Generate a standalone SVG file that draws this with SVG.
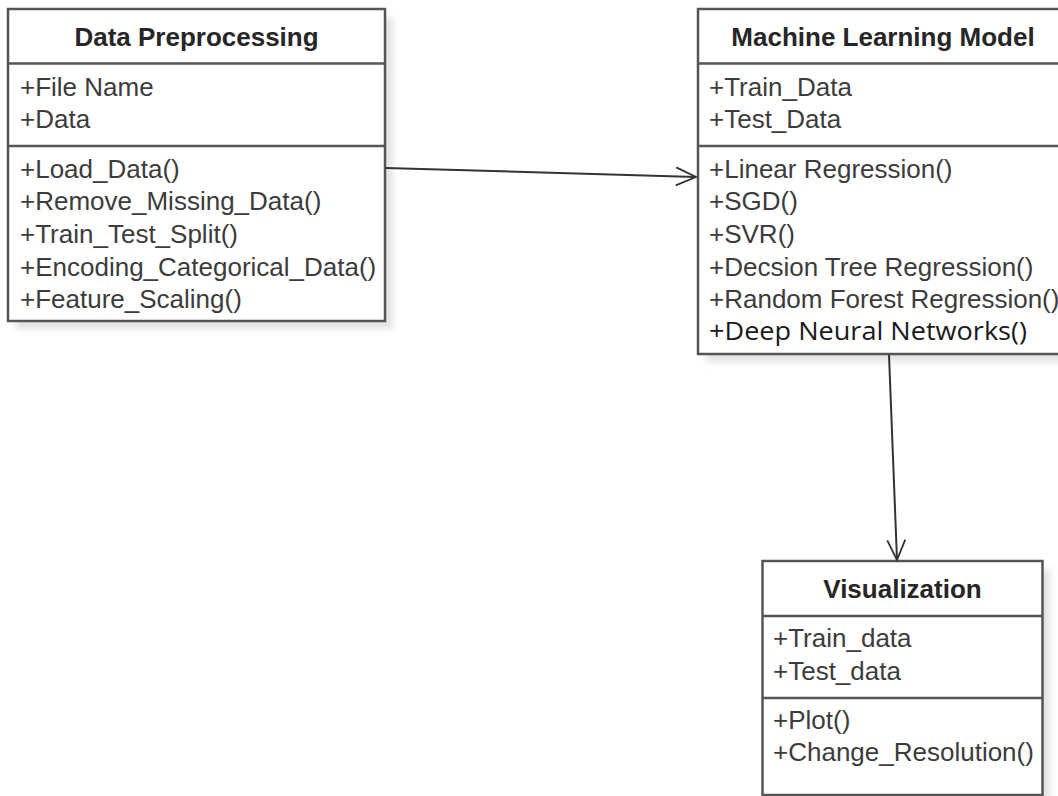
<svg xmlns="http://www.w3.org/2000/svg" width="1058" height="796" viewBox="0 0 1058 796">
  <defs>
    <filter id="shadow" x="-10%" y="-10%" width="130%" height="130%">
      <feGaussianBlur stdDeviation="3"/>
    </filter>
    <marker id="open" markerWidth="24" markerHeight="24" refX="21" refY="10" orient="auto" markerUnits="userSpaceOnUse">
      <path d="M1,1 L21,10 L1,19" fill="none" stroke="#333" stroke-width="1.8"/>
    </marker>
  </defs>
  <style>
    .box { fill: #ffffff; stroke: #555555; stroke-width: 2.5; }
    .shd { fill: #d8d8d8; filter: url(#shadow); opacity: 0.7; }
    .div { stroke: #555555; stroke-width: 2.5; }
    .title { font-family: "Liberation Sans", Arial, sans-serif; font-weight: bold; font-size: 26px; fill: #262626; text-anchor: middle; }
    .item { font-family: "Liberation Sans", Arial, sans-serif; font-size: 26px; fill: #3c3c3c; }
    .item2 { font-family: "Open Sans", "Noto Sans", sans-serif; font-size: 25px; fill: #1a1a1a; }
    .edge { stroke: #333333; stroke-width: 2; fill: none; }
  </style>
  <rect width="1058" height="796" fill="#ffffff"/>

  <g id="data-preprocessing">
    <rect class="shd" x="16" y="17" width="377" height="312"/>
    <rect class="box" x="8" y="9" width="377" height="312"/>
    <line class="div" x1="8" y1="63.5" x2="385" y2="63.5"/>
    <line class="div" x1="8" y1="146" x2="385" y2="146"/>
    <text class="title" x="196.5" y="46">Data Preprocessing</text>
    <text class="item" x="20" y="96">+File Name</text>
    <text class="item" x="20" y="128">+Data</text>
    <text class="item" x="20" y="178">+Load_Data()</text>
    <text class="item" x="20" y="210">+Remove_Missing_Data()</text>
    <text class="item" x="20" y="243">+Train_Test_Split()</text>
    <text class="item" x="20" y="276">+Encoding_Categorical_Data()</text>
    <text class="item" x="20" y="308">+Feature_Scaling()</text>
  </g>

  <g id="machine-learning-model">
    <rect class="shd" x="706" y="17" width="370" height="345"/>
    <rect class="box" x="698" y="9" width="370" height="345"/>
    <line class="div" x1="698" y1="63.5" x2="1068" y2="63.5"/>
    <line class="div" x1="698" y1="146" x2="1068" y2="146"/>
    <text class="title" x="883" y="46">Machine Learning Model</text>
    <text class="item" x="709" y="96">+Train_Data</text>
    <text class="item" x="709" y="128">+Test_Data</text>
    <text class="item" x="709" y="178">+Linear Regression()</text>
    <text class="item" x="709" y="210">+SGD()</text>
    <text class="item" x="709" y="243">+SVR()</text>
    <text class="item" x="709" y="276">+Decsion Tree Regression()</text>
    <text class="item" x="709" y="308">+Random Forest Regression()</text>
    <text class="item2" x="709" y="340" textLength="318" lengthAdjust="spacingAndGlyphs">+Deep Neural Networks()</text>
  </g>

  <g id="visualization">
    <rect class="shd" x="770" y="569" width="280" height="240"/>
    <rect class="box" x="762.5" y="561" width="280" height="234"/>
    <line class="div" x1="762.5" y1="616" x2="1042.5" y2="616"/>
    <line class="div" x1="762.5" y1="698" x2="1042.5" y2="698"/>
    <text class="title" x="902.5" y="598">Visualization</text>
    <text class="item" x="773" y="647">+Train_data</text>
    <text class="item" x="773" y="680">+Test_data</text>
    <text class="item" x="773" y="729">+Plot()</text>
    <text class="item" x="773" y="761">+Change_Resolution()</text>
  </g>

  <g id="connectors">
    <line class="edge" x1="386" y1="168" x2="696" y2="177" marker-end="url(#open)"/>
    <line class="edge" x1="889" y1="355" x2="897" y2="560" marker-end="url(#open)"/>
  </g>
</svg>
